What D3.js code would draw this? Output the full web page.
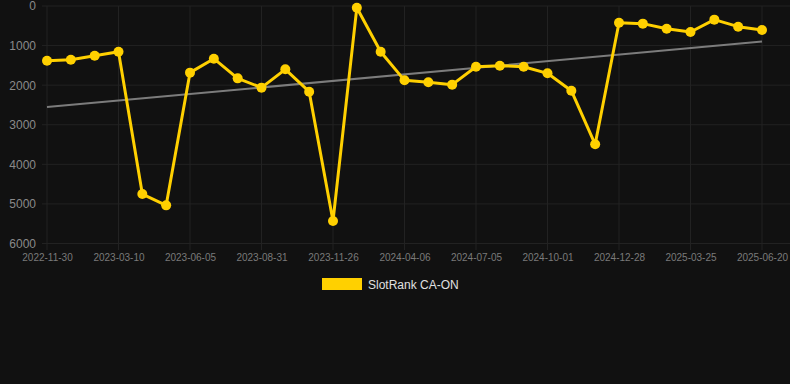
<!DOCTYPE html>
<html><head><meta charset="utf-8">
<script src="https://cdn.jsdelivr.net/npm/d3@7"></script>
<style>
html,body{margin:0;padding:0;background:#111111;}
svg{display:block;}
</style></head>
<body>
<script>
const seriesName = "SlotRank CA-ON";
const tickLabels = ["2022-11-30","2023-03-10","2023-06-05","2023-08-31","2023-11-26","2024-04-06","2024-07-05","2024-10-01","2024-12-28","2025-03-25","2025-06-20"];
const rankValues = [1382,1356,1255,1154,4750,5036,1684,1331,1828,2063,1600,2165,5432,42,1154,1878,1928,1987,1533,1508,1533,1701,2139,3494,421,446,573,657,345,522,606];
const yTicks = [0,1000,2000,3000,4000,5000,6000];

const W = 790, H = 384;
const svg = d3.select("body").append("svg").attr("width", W).attr("height", H);
svg.append("rect").attr("width", W).attr("height", H).attr("fill", "#111111");

const idx = rankValues.map((d,i)=>i);
const x = d3.scalePoint().domain(idx).range([47, 762]);
const y = d3.scaleLinear().domain([0, 6000]).range([6, 243.5]);

const gridColor = "#222222";
// horizontal grid
const gY = svg.append("g").attr("transform", "translate(42,0)")
  .call(d3.axisLeft(y).tickValues(yTicks).tickSize(0).tickPadding(6).tickFormat(d3.format("d")));
gY.select(".domain").remove();
gY.selectAll("text").attr("fill", "#8a8a8a").style("font-family", "Liberation Sans, Arial, sans-serif").style("font-size", "12px");
svg.append("g").selectAll("line").data(yTicks).join("line")
  .attr("x1", 42).attr("x2", 790).attr("y1", d=>y(d)).attr("y2", d=>y(d))
  .attr("stroke", gridColor).attr("stroke-width", 1);

// vertical grid + x axis
const labelIdx = tickLabels.map((d,i)=>i*3);
svg.append("g").selectAll("line").data(labelIdx).join("line")
  .attr("x1", d=>x(d)).attr("x2", d=>x(d)).attr("y1", 6).attr("y2", 250)
  .attr("stroke", gridColor).attr("stroke-width", 1);
const gX = svg.append("g").attr("transform", "translate(0,250)")
  .call(d3.axisBottom(x).tickValues(labelIdx).tickSize(0).tickPadding(4).tickFormat(d=>tickLabels[d/3]));
gX.select(".domain").remove();
gX.selectAll("text").attr("fill", "#7a7a7a").style("font-family", "Liberation Sans, Arial, sans-serif").style("font-size", "10px");

// trend line (least squares)
const n = rankValues.length;
const mx = d3.mean(idx), my = d3.mean(rankValues);
const slope = d3.sum(idx, i => (i-mx)*(rankValues[i]-my)) / d3.sum(idx, i => (i-mx)*(i-mx));
const icpt = my - slope*mx;
svg.append("line")
  .attr("x1", x(0)).attr("y1", y(icpt))
  .attr("x2", x(n-1)).attr("y2", y(icpt + slope*(n-1)))
  .attr("stroke", "#7c7c7c").attr("stroke-width", 2);

const gold = "#FFD000";
svg.append("path").datum(rankValues)
  .attr("fill", "none").attr("stroke", gold).attr("stroke-width", 3)
  .attr("stroke-linejoin", "round")
  .attr("d", d3.line().x((d,i)=>x(i)).y(d=>y(d)));
svg.append("g").selectAll("circle").data(rankValues).join("circle")
  .attr("cx", (d,i)=>x(i)).attr("cy", d=>y(d)).attr("r", 5)
  .attr("fill", gold);

// legend
svg.append("rect").attr("x", 322).attr("y", 278).attr("width", 40).attr("height", 12).attr("fill", gold);
svg.append("text").attr("x", 368).attr("y", 288.5).text(seriesName)
  .attr("fill", "#e0e0e0").style("font-family", "Liberation Sans, Arial, sans-serif").style("font-size", "12px");
</script>
</body></html>
